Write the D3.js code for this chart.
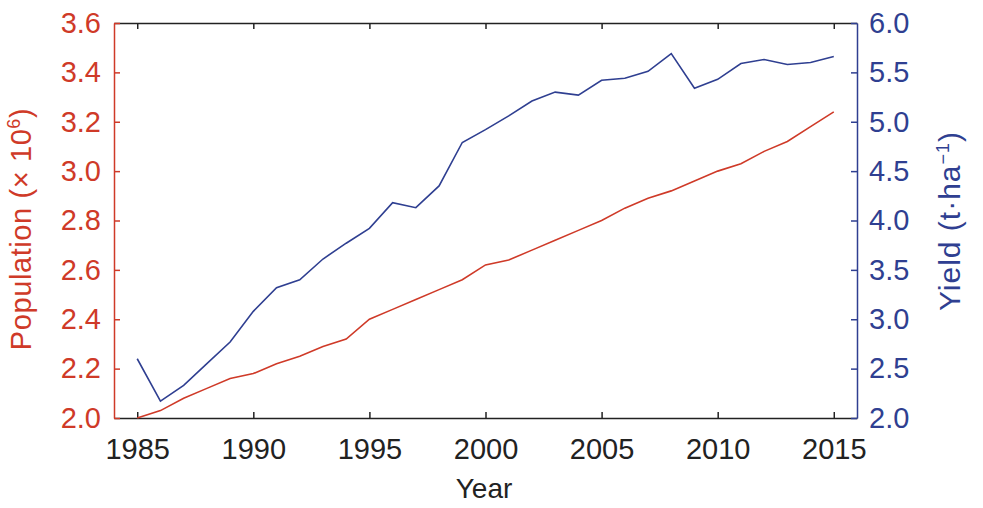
<!DOCTYPE html>
<html>
<head>
<meta charset="utf-8">
<style>
  body { margin: 0; background: #fff; }
  svg { font-family: "Liberation Sans", Arial, sans-serif; }
</style>
</head>
<body>
<svg width="983" height="508"></svg>
<script src="https://d3js.org/d3.v7.min.js"></script>
<script>
// data
const years = d3.range(1985, 2016);
const population = [2.00, 2.03, 2.08, 2.12, 2.16, 2.18, 2.22, 2.25, 2.29, 2.32,
  2.40, 2.44, 2.48, 2.52, 2.56, 2.62, 2.64, 2.68, 2.72, 2.76,
  2.80, 2.85, 2.89, 2.92, 2.96, 3.00, 3.03, 3.08, 3.12, 3.18, 3.24];
const yieldVals = [2.60, 2.17, 2.33, 2.55, 2.77, 3.08, 3.32, 3.40, 3.61, 3.77,
  3.92, 4.18, 4.13, 4.35, 4.79, 4.92, 5.06, 5.21, 5.30, 5.27,
  5.42, 5.44, 5.51, 5.69, 5.34, 5.43, 5.59, 5.63, 5.58, 5.60, 5.66];
const xTicks = [1985, 1990, 1995, 2000, 2005, 2010, 2015];
const popTicks = [2.0, 2.2, 2.4, 2.6, 2.8, 3.0, 3.2, 3.4, 3.6];
const yieldTicks = [2.0, 2.5, 3.0, 3.5, 4.0, 4.5, 5.0, 5.5, 6.0];

const red = "#cf3a28";
const blue = "#2f3f91";

const m = { left: 114, right: 857, top: 23, bottom: 418 };
const svg = d3.select("svg");

const x = d3.scaleLinear().domain([1984, 2016]).range([m.left, m.right]);
const yP = d3.scaleLinear().domain([2.0, 3.6]).range([m.bottom, m.top]);
const yY = d3.scaleLinear().domain([2.0, 6.0]).range([m.bottom, m.top]);

function styleAxis(g, color) {
  g.select(".domain").attr("stroke", color).attr("stroke-width", 1.5);
  g.selectAll(".tick line").attr("stroke", color).attr("stroke-width", 1.5);
  g.selectAll(".tick text").attr("fill", color).style("font-size", "29px");
}

// bottom axis (ticks inward)
svg.append("g")
  .attr("transform", `translate(0,${m.bottom})`)
  .call(d3.axisBottom(x).tickValues(xTicks).tickFormat(d3.format("d"))
    .tickSizeInner(-6).tickSizeOuter(0).tickPadding(20))
  .call(g => styleAxis(g, "#222"));

// top border with ticks
svg.append("g")
  .attr("transform", `translate(0,${m.top})`)
  .call(d3.axisTop(x).tickValues(xTicks).tickFormat("")
    .tickSizeInner(-6).tickSizeOuter(0))
  .call(g => styleAxis(g, "#222"));

// left axis (population)
svg.append("g")
  .attr("transform", `translate(${m.left},0)`)
  .call(d3.axisLeft(yP).tickValues(popTicks).tickFormat(d3.format(".1f"))
    .tickSizeInner(-6).tickSizeOuter(0).tickPadding(13))
  .call(g => styleAxis(g, red));

// right axis (yield)
svg.append("g")
  .attr("transform", `translate(${m.right},0)`)
  .call(d3.axisRight(yY).tickValues(yieldTicks).tickFormat(d3.format(".1f"))
    .tickSizeInner(-6).tickSizeOuter(0).tickPadding(12))
  .call(g => styleAxis(g, blue));

// lines
svg.append("path")
  .datum(years.map((d, i) => [d, population[i]]))
  .attr("fill", "none").attr("stroke", red).attr("stroke-width", 1.6)
  .attr("d", d3.line().x(d => x(d[0])).y(d => yP(d[1])));

svg.append("path")
  .datum(years.map((d, i) => [d, yieldVals[i]]))
  .attr("fill", "none").attr("stroke", blue).attr("stroke-width", 1.6)
  .attr("d", d3.line().x(d => x(d[0])).y(d => yY(d[1])));

// axis titles
svg.append("text")
  .attr("x", 484).attr("y", 498).attr("text-anchor", "middle")
  .style("font-size", "28px").attr("fill", "#222").text("Year");

const popTitle = svg.append("text")
  .attr("transform", "translate(31,229) rotate(-90)")
  .attr("text-anchor", "middle").style("font-size", "29px")
  .style("letter-spacing", "0.6px").attr("fill", red);
popTitle.append("tspan").text("Population (× 10");
popTitle.append("tspan").attr("dy", -11).style("font-size", "18px").text("6");
popTitle.append("tspan").attr("dy", 11).text(")");

const yTitle = svg.append("text")
  .attr("transform", "translate(960,221) rotate(-90)")
  .attr("text-anchor", "middle").style("font-size", "30px")
  .style("letter-spacing", "1px").attr("fill", blue);
yTitle.append("tspan").text("Yield (t·ha");
yTitle.append("tspan").attr("dy", -11).style("font-size", "18px").text("−1");
yTitle.append("tspan").attr("dy", 11).text(")");
</script>
</body>
</html>
